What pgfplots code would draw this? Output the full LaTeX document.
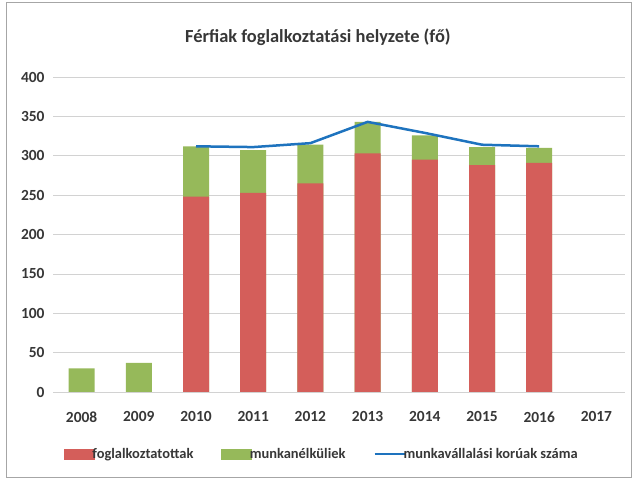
\documentclass[border=0pt]{standalone}
\usepackage{fontspec}
\setmainfont{Carlito}
\usepackage{pgfplots}
\pgfplotsset{compat=1.18}
\definecolor{cred}{RGB}{212,94,90}
\definecolor{cgreen}{RGB}{150,185,90}
\definecolor{cblue}{RGB}{30,115,190}
\definecolor{ctext}{RGB}{55,55,55}
\begin{document}
\begin{tikzpicture}
\useasboundingbox (0,0) rectangle (633bp,479bp);
\draw[gray!70, line width=0.8bp] (6bp,2bp) rectangle (631bp,477bp);
\begin{axis}[
  at={(53bp,87bp)}, anchor=south west,
  scale only axis, width=572bp, height=315bp,
  xmin=-0.5, xmax=9.5, ymin=0, ymax=400,
  xtick={0,...,9},
  xticklabels={2008,2009,2010,2011,2012,2013,2014,2015,2016,2017},
  ytick={0,50,...,400},
  ymajorgrids, grid style={gray!35, line width=0.6bp},
  axis line style={draw=none}, tick style={draw=none},
  /pgf/number format/assume math mode=true,
  tick label style={font=\fontsize{15.5}{17}\selectfont\bfseries, text=ctext},
  yticklabel style={xshift=-5bp},
  xticklabel style={yshift=-16bp},
  title={Férfiak foglalkoztatási helyzete (fő)},
  title style={at={(0.463,1)}, anchor=center, yshift=34bp, font=\fontsize{18.5}{20}\selectfont\bfseries, text=ctext},
  legend columns=3,
  legend style={at={(0.47,-0.197)}, anchor=center, draw=none, fill=none,
    font=\fontsize{14.5}{17}\selectfont\bfseries, text=ctext,
    /tikz/every even column/.append style={column sep=26bp},
    /tikz/every odd column/.append style={column sep=-4bp}},
  legend cell align=left,
]
\addplot[ybar, bar width=26bp, bar shift=0pt, fill=cgreen, draw=none, forget plot]
  coordinates {(0,30) (1,37) (2,312) (3,307) (4,314) (5,343) (6,326) (7,311) (8,310)};
\addplot[ybar, bar width=26bp, bar shift=0pt, fill=cred, draw=none, forget plot]
  coordinates {(2,248) (3,253) (4,265) (5,303) (6,295) (7,288) (8,291)};
\addplot[cblue, line width=2.5bp, mark=none, forget plot]
  coordinates {(2,312) (3,311) (4,316) (5,343) (6,329) (7,314) (8,312)};
\addlegendimage{legend image code/.code={\fill[cred] (0bp,-5bp) rectangle (30bp,5bp);}}
\addlegendentry{foglalkoztatottak}
\addlegendimage{legend image code/.code={\fill[cgreen] (0bp,-5bp) rectangle (30bp,5bp);}}
\addlegendentry{munkanélküliek}
\addlegendimage{legend image code/.code={\draw[cblue, line width=2.2bp] (0bp,0bp) -- (30bp,0bp);}}
\addlegendentry{munkavállalási korúak száma}
\end{axis}
\end{tikzpicture}
\end{document}
